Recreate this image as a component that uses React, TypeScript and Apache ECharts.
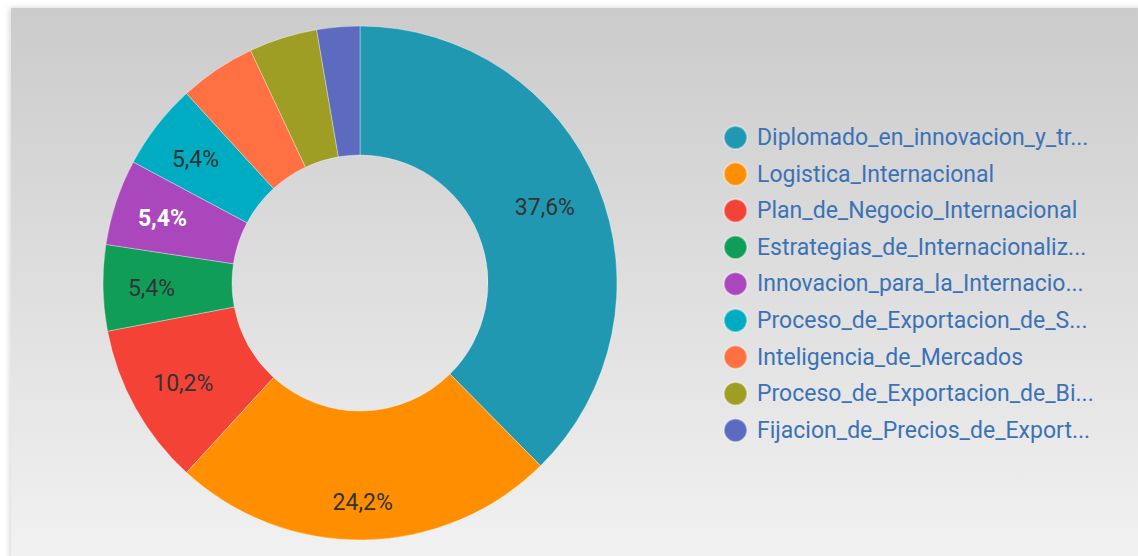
import React, { useEffect, useRef } from "react";
import * as echarts from "echarts";

const categories = [
  "Diplomado_en_innovacion_y_tr...",
  "Logistica_Internacional",
  "Plan_de_Negocio_Internacional",
  "Estrategias_de_Internacionaliz...",
  "Innovacion_para_la_Internacio...",
  "Proceso_de_Exportacion_de_S...",
  "Inteligencia_de_Mercados",
  "Proceso_de_Exportacion_de_Bi...",
  "Fijacion_de_Precios_de_Export...",
];
const shares = [37.6, 24.2, 10.2, 5.4, 5.4, 5.4, 4.8, 4.3, 2.7];
const colors = [
  "#2098b1",
  "#ff8f00",
  "#f44336",
  "#0f9d58",
  "#ab47bc",
  "#00acc1",
  "#ff7043",
  "#9e9d24",
  "#5c6bc0",
];
// small label nudges (style only)
const labelOffsets: number[][] = [
  [4, -1],
  [-1, 24],
  [-6, 5],
  [-13, 2],
  [-12, -3],
  [-10, -4],
  [0, 0],
  [0, 0],
  [0, 0],
];
const highlighted = "Innovacion_para_la_Internacio...";
const labelThreshold = 5;

export default function App() {
  const ref = useRef<HTMLDivElement>(null);
  useEffect(() => {
    if (!ref.current) return;
    const chart = echarts.init(ref.current, undefined, { renderer: "svg" });
    const data = categories.map((name, i) => ({
      name,
      value: shares[i],
      itemStyle: { color: colors[i] },
      label:
        shares[i] < labelThreshold
          ? { show: false }
          : name === highlighted
          ? { color: "#ffffff", fontWeight: "bold" as const, offset: labelOffsets[i] }
          : { offset: labelOffsets[i] },
    }));
    chart.setOption({
      animation: false,
      textStyle: { fontFamily: "Roboto" },
      graphic: [
        {
          type: "rect",
          z: -10,
          silent: true,
          shape: { x: 11, y: 8, width: 1140, height: 560 },
          style: {
            fill: new echarts.graphic.LinearGradient(0, 0, 0, 1, [
              { offset: 0, color: "#cbcbcb" },
              { offset: 1, color: "#f2f2f2" },
            ]),
            shadowBlur: 6,
            shadowColor: "rgba(0,0,0,0.18)",
            shadowOffsetX: -1,
            shadowOffsetY: 0,
          },
        },
      ],
      legend: {
        orient: "vertical",
        left: 718,
        top: 120,
        icon: "circle",
        itemWidth: 23,
        itemHeight: 23,
        itemGap: 11.6,
        textStyle: {
          fontFamily: "Roboto",
          fontSize: 23,
          lineHeight: 23,
          color: "#3b72b6",
          padding: [0, 0, 0, 5],
        },
        data: categories,
      },
      series: [
        {
          type: "pie",
          center: [360, 283],
          radius: [128, 257],
          startAngle: 90,
          clockwise: true,
          percentPrecision: 1,
          avoidLabelOverlap: false,
          itemStyle: { borderColor: "rgba(255,255,255,0.35)", borderWidth: 1 },
          label: {
            show: true,
            position: "inside",
            fontFamily: "Roboto",
            fontSize: 23,
            color: "#333333",
            formatter: (p: any) => p.percent.toFixed(1).replace(".", ",") + "%",
          },
          labelLine: { show: false },
          emphasis: { disabled: true },
          data,
        },
      ],
    });
    return () => chart.dispose();
  }, []);
  return (
    <div
      ref={ref}
      style={{ position: "fixed", left: 0, top: 0, width: 1138, height: 556, background: "#ffffff" }}
    />
  );
}
